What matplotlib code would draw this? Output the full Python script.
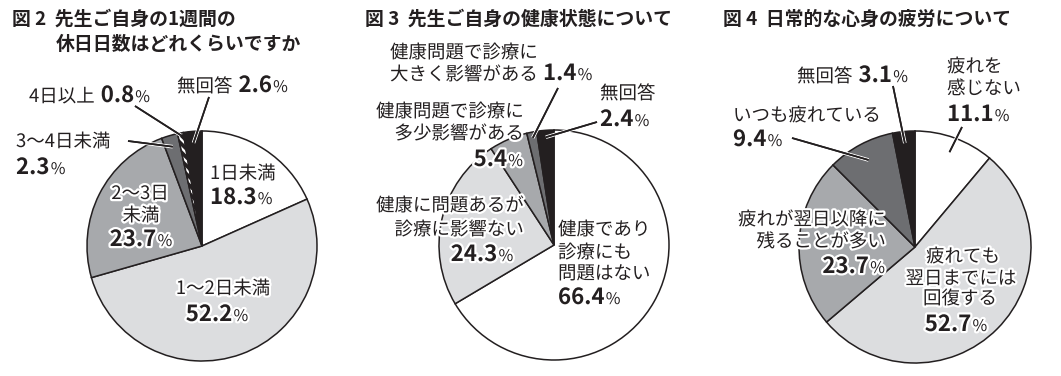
import matplotlib
matplotlib.use('Agg')
import matplotlib.pyplot as plt
import matplotlib.patheffects as pe
import numpy as np

plt.rcParams['font.family'] = ['Noto Sans CJK JP', 'DejaVu Sans']
plt.rcParams['hatch.linewidth'] = 1.6

W, H = 1061, 376
INK = '#231f20'
WHITE = '#ffffff'
LIGHT = '#dcdddf'
MID = '#a7a9ac'
DARK = '#6d6e71'

# ---------------- data ----------------
fig2_title = ['図 2  先生ご自身の1週間の', '休日日数はどれくらいですか']
fig2_labels = ['1日未満', '1〜2日未満', '2〜3日未満', '3〜4日未満', '4日以上', '無回答']
fig2_values = [18.3, 52.2, 23.7, 2.3, 0.8, 2.6]

fig3_title = ['図 3  先生ご自身の健康状態について']
fig3_labels = ['健康であり診療にも問題はない', '健康に問題あるが診療に影響ない',
               '健康問題で診療に多少影響がある', '健康問題で診療に大きく影響がある', '無回答']
fig3_values = [66.4, 24.3, 5.4, 1.4, 2.4]

fig4_title = ['図 4  日常的な心身の疲労について']
fig4_labels = ['疲れを感じない', '疲れても翌日までには回復する', '疲れが翌日以降に残ることが多い',
               'いつも疲れている', '無回答']
fig4_values = [11.1, 52.7, 23.7, 9.4, 3.1]

fig = plt.figure(figsize=(W / 100, H / 100), dpi=100)
ax = fig.add_axes([0, 0, 1, 1])
ax.set_xlim(0, W)
ax.set_ylim(0, H)
ax.axis('off')
R = fig.canvas.get_renderer()

TXT = 13.3
NUM = 16
PCT = 11.5
TTL = 13.6
HALO = [pe.withStroke(linewidth=3.2, foreground='white')]


def runs(x, y, parts, ha='left', halo=True):
    """parts: list of (text, size, weight, gap_after_px). y is the baseline in pixel coords from top."""
    texts = []
    cx = x
    for s, size, weight, gap in parts:
        t = ax.text(cx, H - y, s, fontsize=size, fontweight=weight, color=INK,
                    ha='left', va='baseline', zorder=5)
        if halo:
            t.set_path_effects(HALO)
        bb = t.get_window_extent(renderer=R)
        cx += bb.width + gap
        texts.append(t)
    total = cx - x
    shift = 0 if ha == 'left' else (-total / 2 if ha == 'center' else -total)
    for t in texts:
        px, py = t.get_position()
        t.set_x(px + shift)


def txt(s, gap=0):
    return (s, TXT, 'normal', gap)


def num(v):
    return [(f'{v:.1f}', NUM, 'bold', 1), ('%', PCT, 'normal', 0)]


def draw_pie(values, colors, cx, cy, r):
    wedges, _ = ax.pie(values, colors=colors, startangle=90, counterclock=False,
                       center=(cx, H - cy), radius=r, frame=True,
                       wedgeprops=dict(edgecolor=INK, linewidth=1.1))
    return wedges


def anchor(w, frac):
    th = np.deg2rad((w.theta1 + w.theta2) / 2)
    c = w.center
    return (c[0] + w.r * frac * np.cos(th), c[1] + w.r * frac * np.sin(th))


def leader(w, frac, x, y):
    p = anchor(w, frac)
    ax.plot([x, p[0]], [H - y, p[1]], color=INK, lw=1.2, solid_capstyle='butt', zorder=4,
            path_effects=[pe.withStroke(linewidth=2.6, foreground='white'), pe.Normal()])


def title(x, y, s, x2=None, y2=None, s2=None):
    ax.text(x, H - y, s, fontsize=TTL, fontweight='bold', color=INK, ha='left', va='baseline')
    if s2:
        ax.text(x2, H - y2, s2, fontsize=TTL, fontweight='bold', color=INK, ha='left', va='baseline')


# ---------------- Figure 2 ----------------
title(12, 25, fig2_title[0], 56, 50, fig2_title[1])
w2 = draw_pie(fig2_values, [WHITE, LIGHT, MID, DARK, INK, INK], 202, 246, 115)
hw = w2[4]
hw.set_hatch('\\\\\\\\')
hw.set_edgecolor('white')
hw.set_linewidth(0)
outline = matplotlib.patches.Wedge(hw.center, hw.r, hw.theta1, hw.theta2, fill=False,
                                   edgecolor=INK, linewidth=1.1, zorder=hw.get_zorder() + 0.1)
ax.add_patch(outline)

leader(w2[5], 0.9, 209, 97)
leader(w2[4], 0.98, 135, 106)
leader(w2[3], 0.9, 128, 141)

runs(177, 92, [txt('無回答', 6)] + num(fig2_values[5]))
runs(29, 102, [txt('4日以上', 6)] + num(fig2_values[4]))
runs(16, 147, [txt('3〜4日未満')])
runs(16, 174, num(fig2_values[3]))
runs(210, 179, [txt('1日未満')])
runs(210, 204, num(fig2_values[0]))
runs(140, 199, [txt('2〜3日')], ha='center')
runs(141, 221, [txt('未満')], ha='center')
runs(141, 246, num(fig2_values[2]), ha='center')
runs(223, 294, [txt('1〜2日未満')], ha='center')
runs(217, 321, num(fig2_values[1]), ha='center')

# ---------------- Figure 3 ----------------
title(365, 25, fig3_title[0])
w3 = draw_pie(fig3_values, [WHITE, LIGHT, MID, DARK, INK], 554, 245, 115)
leader(w3[3], 0.95, 558, 88)
leader(w3[4], 0.94, 597, 122)

runs(390, 58, [txt('健康問題で診療に')])
runs(390, 80, [txt('大きく影響がある', 5)] + num(fig3_values[3]))
runs(600, 99, [txt('無回答')])
runs(600, 126, num(fig3_values[4]))
runs(524, 117, [txt('健康問題で診療に')], ha='right')
runs(524, 139, [txt('多少影響がある')], ha='right')
runs(523, 166, num(fig3_values[2]), ha='right')
runs(524, 211, [txt('健康に問題あるが')], ha='right')
runs(524, 235, [txt('診療に影響ない')], ha='right')
runs(482, 261, num(fig3_values[1]), ha='center')
runs(558, 235, [txt('健康であり')])
runs(558, 258, [txt('診療にも')])
runs(558, 279, [txt('問題はない')])
runs(558, 304, num(fig3_values[0]))

# ---------------- Figure 4 ----------------
title(723, 25, fig4_title[0])
w4 = draw_pie(fig4_values, [WHITE, LIGHT, MID, DARK, INK], 915, 247, 116)
leader(w4[4], 0.9, 893, 86)
leader(w4[3], 0.85, 792, 138)
leader(w4[0], 0.87, 962, 127)

runs(797, 82, [txt('無回答', 6)] + num(fig4_values[4]))
runs(733, 121, [txt('いつも疲れている')])
runs(733, 146, num(fig4_values[3]))
runs(947, 72, [txt('疲れを')])
runs(947, 94, [txt('感じない')])
runs(947, 121, num(fig4_values[0]))
runs(886, 225, [txt('疲れが翌日以降に')], ha='right')
runs(886, 247, [txt('残ることが多い')], ha='right')
runs(885, 273, num(fig4_values[2]), ha='right')
runs(963, 262, [txt('疲れても')], ha='center')
runs(961, 284, [txt('翌日までには')], ha='center')
runs(960, 304, [txt('回復する')], ha='center')
runs(956, 331, num(fig4_values[1]), ha='center')

ax.set_xlim(0, W)
ax.set_ylim(0, H)
ax.set_aspect('auto')
fig.savefig('out.png', dpi=100, facecolor='white')
